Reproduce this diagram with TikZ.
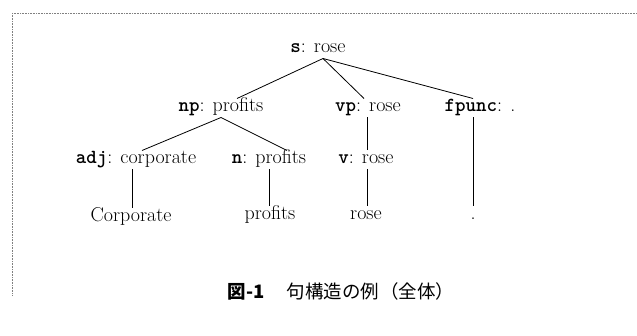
\documentclass[tikz,border=0pt]{standalone}
\usepackage{fontspec}
\newfontfamily\jpfont{Noto Sans CJK JP}
\newcommand\lb[1]{{\ttfamily\bfseries #1}}
\begin{document}
\begin{tikzpicture}[x=1pt,y=-1pt,
  word/.style={inner sep=0pt, outer sep=1.5pt, text height=12pt, text depth=4pt,
    font=\fontsize{20}{23}\selectfont},
  edge/.style={line width=0.8pt, black},
  frame/.style={densely dotted, gray, line width=0.6pt}]
\useasboundingbox (0,0) rectangle (637,336);
% scanned frame
\draw[frame] (12,13) -- (637,13);
\draw[frame] (12,13) -- (12,295);
% tree nodes
\node[word] (s)   at (318,49)  {\lb{s}: rose};
\node[word] (np)  at (221,108) {\lb{np}: profits};
\node[word] (vp)  at (368,108) {\lb{vp}: rose};
\node[word] (fp)  at (480,108) {\lb{fpunc}: .};
\node[word] (adj) at (136,160) {\lb{adj}: corporate};
\node[word] (n)   at (269,160) {\lb{n}: profits};
\node[word] (v)   at (366,160) {\lb{v}: rose};
\node[word] (w1)  at (131,218) {Corporate};
\node[word] (w2)  at (270,216) {profits};
\node[word] (w3)  at (366,216) {rose};
\node[word] (w4)  at (473,216) {.};
% edges
\draw[edge] ([xshift=5pt]s.south) -- ([xshift=16pt]np.north);
\draw[edge] ([xshift=5pt]s.south) -- ([xshift=-4pt]vp.north);
\draw[edge] ([xshift=5pt]s.south) -- ([xshift=-7pt]fp.north);
\draw[edge] (np.south) -- ([xshift=6pt]adj.north);
\draw[edge] (np.south) -- ([xshift=18pt]n.north);
\draw[edge] ([xshift=-1pt]vp.south) -- ([xshift=1pt]v.north);
\draw[edge] ([xshift=-7pt]fp.south) -- (w4.north);
\draw[edge] ([xshift=-4pt]adj.south) -- ([xshift=1pt]w1.north);
\draw[edge] (n.south) -- ([xshift=-1pt]w2.north);
\draw[edge] ([xshift=1pt]v.south) -- ([xshift=1pt]w3.north);
% caption
\node[font=\jpfont\fontsize{18.5}{22}\selectfont, inner sep=0pt] (cap) at (341,291)
  {{\bfseries 図-1}\hspace{22pt}句構造の例\hspace{1pt}（全体）};
\end{tikzpicture}
\end{document}
